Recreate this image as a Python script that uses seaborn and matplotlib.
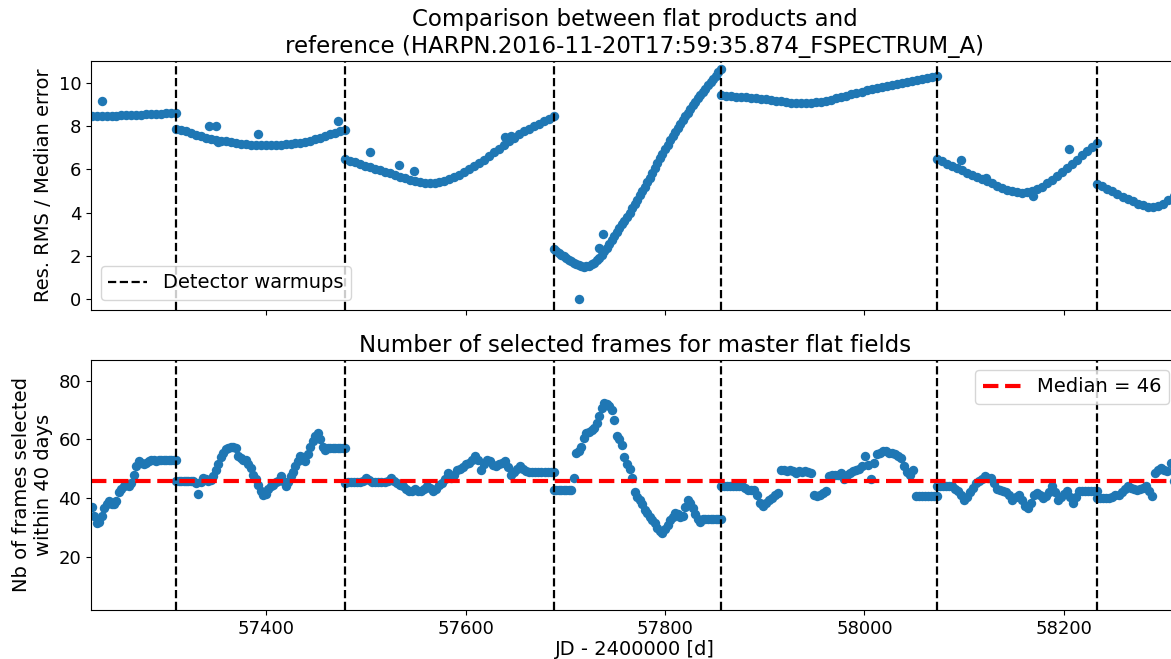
import numpy as np
import pandas as pd
import matplotlib
matplotlib.use("Agg")
import matplotlib.pyplot as plt
import seaborn as sns

#dates of the detector warmups and of the first / last frame
warmups = [57309.6, 57479.3, 57688.2, 57855.8, 58072.7, 58233.3]
first_jd = 57225.0
last_jd = 58310.0
median_frames = 46

#residual rms / median error, one list per period between warmups
rms_segments = [
    [8.45, 8.44, 8.46, 8.47, 8.46, 8.48, 8.49, 8.50, 8.51, 8.52, 8.53, 8.54, 8.55, 8.56, 8.57, 8.58, 8.59, 8.60],
    [7.88, 7.82, 7.76, 7.68, 7.60, 7.53, 7.47, 7.42, 7.37, 7.33, 7.29, 7.25, 7.21, 7.18, 7.15, 7.13, 7.12, 7.11,
     7.11, 7.11, 7.12, 7.13, 7.15, 7.17, 7.20, 7.23, 7.28, 7.33, 7.40, 7.47, 7.55, 7.62, 7.69, 7.75, 7.80],
    [6.48, 6.40, 6.32, 6.24, 6.16, 6.09, 6.02, 5.95, 5.88, 5.81, 5.74, 5.67, 5.60, 5.53, 5.47, 5.42, 5.39, 5.38,
     5.39, 5.42, 5.47, 5.54, 5.63, 5.74, 5.87, 6.00, 6.14, 6.29, 6.45, 6.62, 6.79, 6.96, 7.13, 7.30, 7.46, 7.61,
     7.75, 7.88, 8.00, 8.11, 8.22, 8.34, 8.45],
    [2.33, 2.24, 2.15, 2.06, 1.98, 1.91, 1.84, 1.77, 1.70, 1.63, 1.57, 1.53, 1.51, 1.52, 1.55, 1.61, 1.69, 1.80,
     1.93, 2.07, 2.22, 2.38, 2.55, 2.73, 2.92, 3.10, 3.28, 3.46, 3.64, 3.82, 4.00, 4.20, 4.40, 4.60, 4.80, 5.00,
     5.20, 5.40, 5.62, 5.85, 6.08, 6.30, 6.52, 6.73, 6.93, 7.14, 7.37, 7.55, 7.74, 7.92, 8.10, 8.28, 8.45, 8.62,
     8.79, 8.96, 9.12, 9.28, 9.43, 9.58, 9.73, 9.88, 10.03, 10.18, 10.33, 10.48, 10.63],
    [9.42, 9.40, 9.38, 9.36, 9.34, 9.32, 9.30, 9.28, 9.26, 9.23, 9.20, 9.17, 9.14, 9.11, 9.08, 9.06, 9.06, 9.07,
     9.08, 9.10, 9.13, 9.17, 9.22, 9.28, 9.34, 9.40, 9.46, 9.52, 9.58, 9.65, 9.71, 9.76, 9.81, 9.85, 9.89, 9.93,
     9.97, 10.01, 10.06, 10.11, 10.16, 10.20, 10.24, 10.29],
    [6.48, 6.38, 6.27, 6.16, 6.05, 5.95, 5.84, 5.73, 5.63, 5.54, 5.45, 5.35, 5.25, 5.15, 5.06, 4.99, 4.95, 4.93,
     4.94, 5.00, 5.08, 5.20, 5.35, 5.52, 5.70, 5.88, 6.06, 6.25, 6.45, 6.64, 6.83, 7.02, 7.22],
    [5.33, 5.22, 5.10, 4.98, 4.86, 4.74, 4.63, 4.52, 4.42, 4.34, 4.28, 4.27, 4.32, 4.42, 4.58, 4.76],
]
rms_outlier_jd = [57235.0, 57342.5, 57349.8, 57351.8, 57392.0, 57472.3, 57504.4, 57532.8, 57547.8, 57640.0,
                  57646.0, 57714.2, 57738.0, 57733.5, 58097.0, 58122.0, 58169.0, 58205.0]
rms_outlier_val = [9.17, 8.02, 8.02, 7.25, 7.65, 8.23, 6.80, 6.22, 5.91, 7.50,
                   7.52, 0.00, 3.00, 2.38, 6.42, 5.61, 4.79, 6.94]

#number of frames selected within 40 days, one list per period
nb_segments = [
    [37.0, 34.0, 31.5, 32.0, 34.0, 36.5, 38.0, 39.0, 38.0, 38.0, 39.0, 42.0, 43.0, 44.0, 44.5, 44.0, 45.0, 48.0,
     51.0, 52.5, 52.0, 51.5, 52.0, 52.5, 53.0, 53.0, 52.5, 53.0, 53.0, 53.0, 53.0, 53.0, 53.0, 53.0, 53.0],
    [46.0, 46.0, 45.7, 45.7, 45.7, 45.7, 45.7, 45.7, 45.0, 41.5, 45.5, 46.8, 46.5, 46.0, 46.2, 47.5, 49.5, 51.5,
     54.0, 55.5, 56.7, 57.2, 57.4, 57.4, 57.0, 54.2, 53.5, 53.0, 53.0, 51.5, 50.2, 48.0, 46.5, 44.5, 42.5, 41.0,
     41.5, 43.0, 44.0, 44.5, 45.5, 46.0, 47.4, 46.0, 44.0, 45.5, 47.4, 49.0, 51.0, 52.5, 54.5, 54.0, 52.5, 55.0,
     57.5, 59.5, 61.0, 62.2, 60.0, 57.5, 56.5, 57.0, 57.0, 57.0, 57.0, 57.0, 57.0, 57.0, 57.0],
    [45.1, 45.4, 45.4, 45.4, 45.4, 45.4, 46.0, 46.8, 46.2, 45.4, 45.4, 45.4, 45.4, 45.4, 46.0, 46.8, 46.0, 45.0,
     44.5, 44.0, 43.0, 42.3, 42.5, 43.0, 42.5, 42.3, 43.0, 44.0, 43.5, 42.3, 43.0, 44.5, 45.1, 46.5, 48.5, 47.0,
     48.0, 49.5, 50.0, 50.5, 51.5, 52.0, 53.0, 54.2, 53.0, 49.7, 51.5, 53.1, 52.5, 51.4, 51.0, 51.5, 52.0, 52.5,
     50.5, 48.0, 49.0, 50.0, 50.8, 50.0, 49.1, 49.0, 48.8, 48.8, 48.8, 48.8, 48.8, 48.8, 48.8, 48.8],
    [42.8, 42.8, 42.8, 42.8, 42.8, 42.8, 42.8, 42.8, 46.8, 55.5, 56.0, 57.5, 60.5, 62.0, 62.5, 63.3, 64.0, 65.6,
     68.0, 70.5, 72.5, 72.0, 71.2, 70.0, 66.5, 61.0, 60.0, 58.0, 54.0, 51.5, 50.0, 47.0, 42.0, 40.5, 39.5, 38.0,
     36.0, 34.9, 33.5, 32.5, 31.5, 30.0, 29.0, 28.1, 29.5, 30.9, 32.5, 33.5, 34.9, 34.5, 33.5, 34.0, 37.0, 39.4,
     38.5, 36.6, 34.5, 33.0, 32.0, 32.8, 32.8, 32.8, 32.8, 32.8, 32.8, 32.8, 32.8],
    [44.0, 44.0, 44.0, 44.0, 44.0, 44.0, 44.0, 44.0, 43.5, 42.8, 42.8, 42.8, 41.0, 38.5, 37.5, 38.5, 39.4, 40.0,
     41.0, 41.7, 49.7, 49.5, 49.1, 49.5, 49.1, 48.5, 49.1, 48.8, 49.1, 48.8, 48.5, 41.0, 40.6, 41.0, 41.7, 42.5,
     47.5, 48.0, 48.0, 48.0, 48.5, 46.5, 48.0, 48.5, 49.1, 49.5, 50.0, 51.0, 54.5, 51.4, 46.5, 52.0, 55.0, 55.5,
     56.2, 56.0, 55.5, 55.3, 55.0, 54.5, 53.6, 50.8, 49.0, 48.0, 49.7, 40.6, 40.6, 40.6, 40.6, 40.6, 40.6, 40.6,
     40.6],
    [44.0, 44.0, 44.0, 44.0, 44.0, 44.0, 43.0, 42.3, 41.0, 39.4, 40.5, 42.0, 43.5, 45.0, 45.7, 46.5, 47.4, 47.0,
     46.8, 45.0, 43.0, 42.8, 42.3, 42.0, 41.0, 39.4, 40.5, 41.1, 39.5, 37.5, 36.6, 38.5, 41.0, 41.7, 41.0, 40.0,
     40.6, 42.0, 44.0, 42.0, 39.4, 40.5, 41.5, 42.3, 40.5, 38.3, 40.5, 42.6, 42.6, 42.6, 42.6, 42.6, 42.6, 42.6],
    [40.0, 40.0, 40.0, 40.0, 40.0, 40.5, 41.0, 41.1, 42.0, 43.0, 44.0, 43.5, 43.0, 42.8, 43.0, 43.5, 44.0, 42.5,
     40.6, 48.5, 49.5, 50.2, 49.5, 49.1, 51.9, 45.7],
]
nb_extra_jd = []
nb_extra_val = []


def build_frame(segments, extra_jd, extra_val):
    #spread each period's values between its two warmup dates
    edges = [first_jd] + warmups + [last_jd]
    parts = []
    for i, vals in enumerate(segments):
        jd = np.linspace(edges[i], edges[i + 1], len(vals))
        parts.append(pd.DataFrame({"jd": jd, "value": vals}))
    if len(extra_jd):
        parts.append(pd.DataFrame({"jd": extra_jd, "value": extra_val}))
    return pd.concat(parts, ignore_index=True)


rms_df = build_frame(rms_segments, rms_outlier_jd, rms_outlier_val)
nb_df = build_frame(nb_segments, nb_extra_jd, nb_extra_val)

blue = "#1f77b4"
fig = plt.figure(figsize=(11.71, 6.59), dpi=100)
ax1 = fig.add_axes([0.0777, 0.5296, 0.9291, 0.3778])
ax2 = fig.add_axes([0.0777, 0.0744, 0.9291, 0.3794], sharex=ax1)

#top panel
sns.scatterplot(data=rms_df, x="jd", y="value", ax=ax1, color=blue, s=46, linewidth=0)
for i, w in enumerate(warmups):
    ax1.axvline(w, color="k", ls="--", lw=1.6, label="Detector warmups" if i == 0 else None)
ax1.set_ylim(-0.49, 11.0)
ax1.set_ylabel("Res. RMS / Median error", fontsize=14)
ax1.set_xlabel("")
ax1.set_title("Comparison between flat products and\nreference (HARPN.2016-11-20T17:59:35.874_FSPECTRUM_A)",
              fontsize=16.5)
ax1.legend(loc="lower left", fontsize=14)
ax1.tick_params(labelbottom=False, labelsize=13)

#bottom panel
sns.scatterplot(data=nb_df, x="jd", y="value", ax=ax2, color=blue, s=46, linewidth=0)
for w in warmups:
    ax2.axvline(w, color="k", ls="--", lw=1.6)
ax2.axhline(median_frames, color="r", ls="--", lw=3, label=f"Median = {median_frames}")
ax2.set_ylim(2, 87)
ax2.set_xlim(57224.3, 58315.4)
ax2.set_yticks([20, 40, 60, 80])
ax2.set_ylabel("Nb of frames selected\nwithin 40 days", fontsize=14)
ax2.set_xlabel("JD - 2400000 [d]", fontsize=14, labelpad=2)
ax2.set_title("Number of selected frames for master flat fields", fontsize=16.5)
ax2.legend(loc="upper right", fontsize=14)
ax2.tick_params(labelsize=13)

fig.savefig("out.png", dpi=100)
